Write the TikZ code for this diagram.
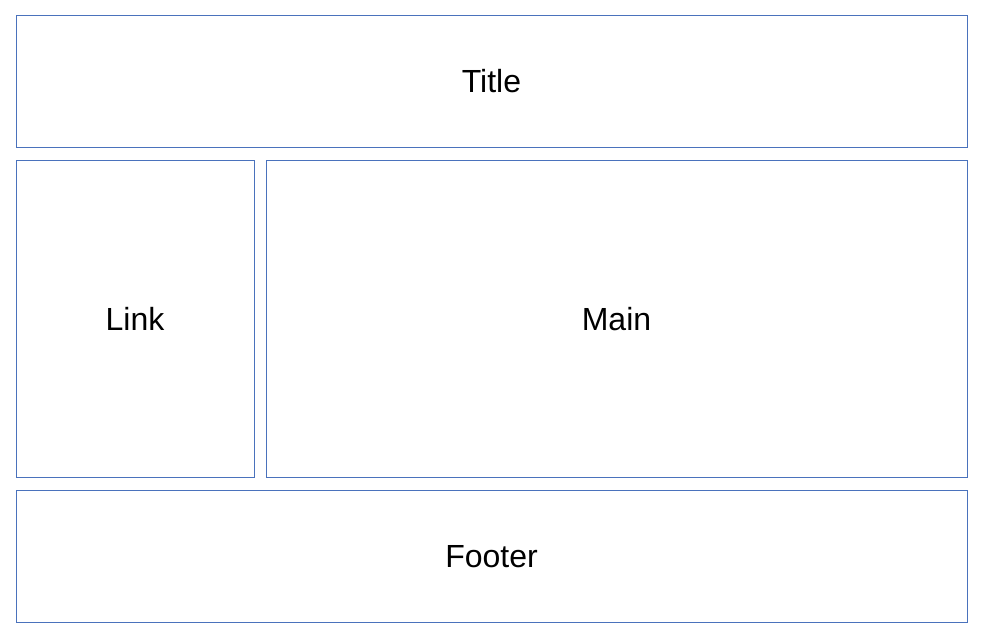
\documentclass[tikz,border=0pt]{standalone}
\usepackage{fontspec}
\setmainfont{Liberation Sans}
\definecolor{boxblue}{RGB}{74,114,188}
\begin{document}
\begin{tikzpicture}[x=1pt,y=-1pt,
  panel/.style={draw=boxblue,line width=1pt,fill=white,font=\fontsize{32}{38}\selectfont}]
\useasboundingbox (0,0) rectangle (981,639);
\node[panel,minimum width=951pt,minimum height=132pt] (title) at (491.5,81.5) {Title};
\node[panel,minimum width=238pt,minimum height=317pt] (link) at (135,319) {Link};
\node[panel,minimum width=701pt,minimum height=317pt] (main) at (616.5,319) {Main};
\node[panel,minimum width=951pt,minimum height=132pt] (footer) at (491.5,556.5) {Footer};
\end{tikzpicture}
\end{document}
